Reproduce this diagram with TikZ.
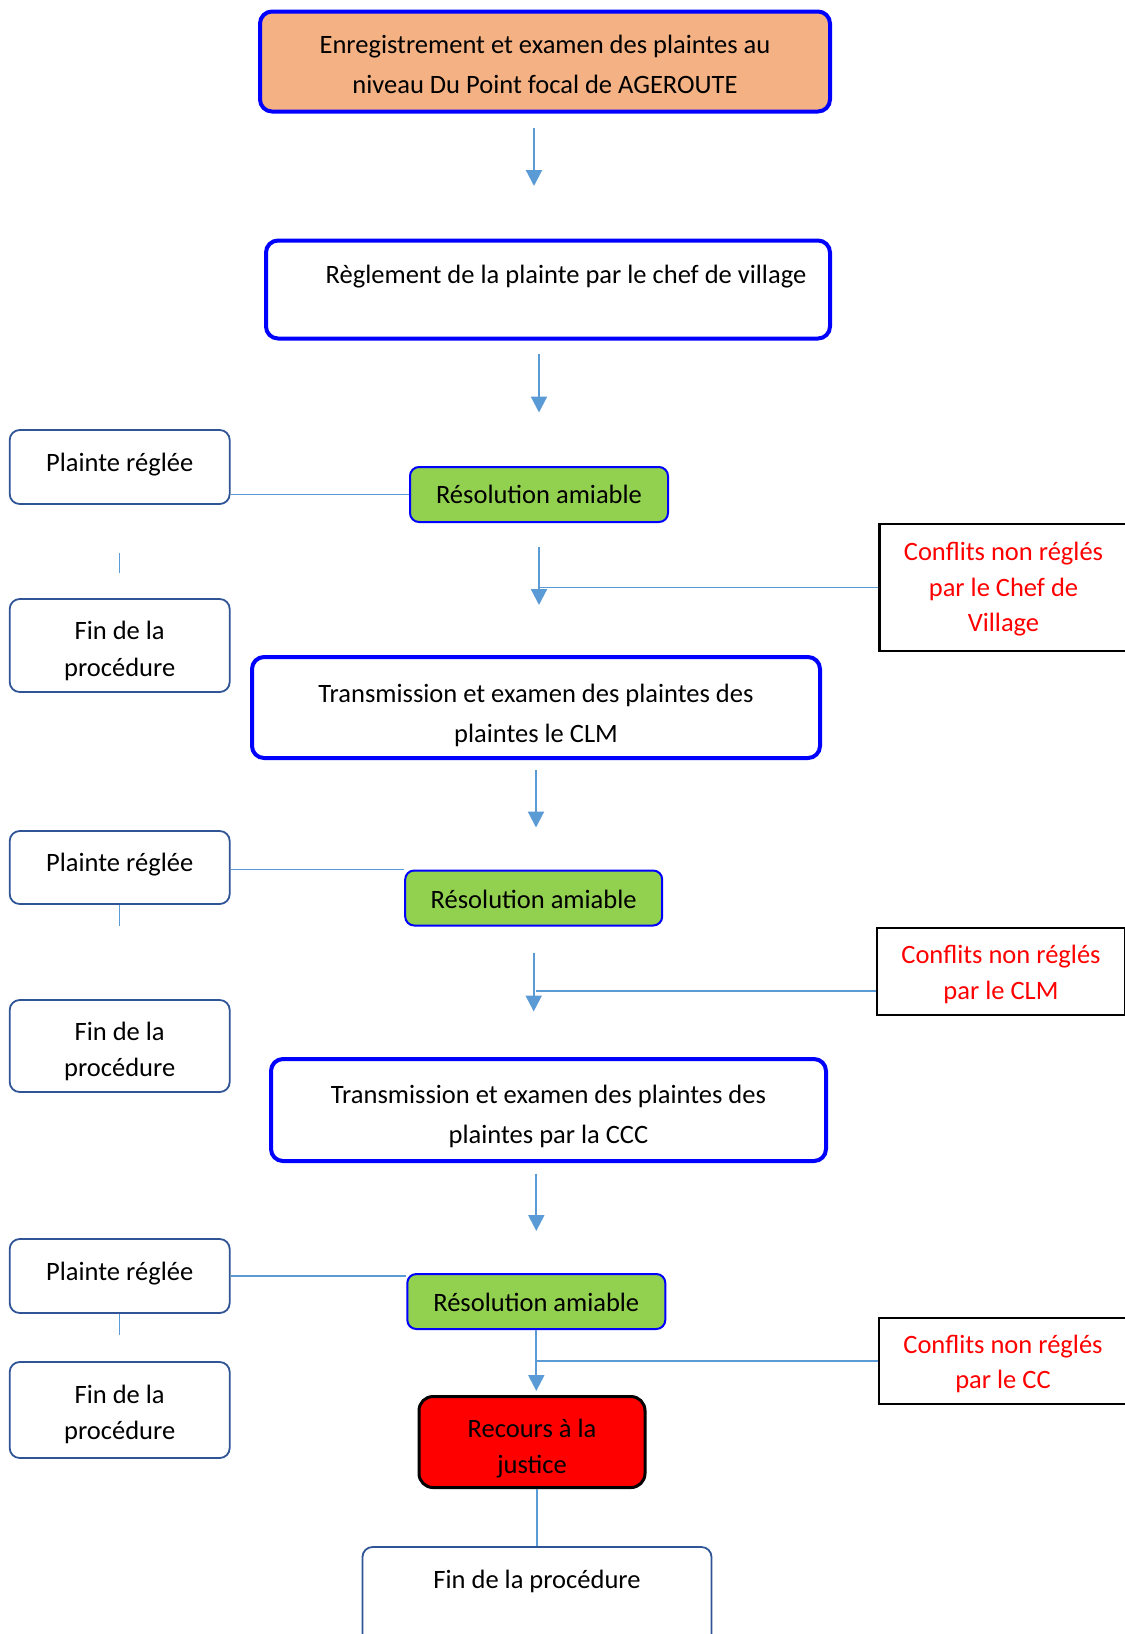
\documentclass[tikz,border=0pt]{standalone}
\usepackage{fontspec}
\setmainfont{Carlito}
\usepackage{tikz}
\usetikzlibrary{calc}
\usetikzlibrary{arrows.meta}
\definecolor{orangebox}{HTML}{F4B183}
\definecolor{greenbox}{HTML}{92D050}
\definecolor{edgeblue}{HTML}{2F5597}
\definecolor{linkblue}{HTML}{5B9BD5}
% text block, moved up or down inside its box
\newcommand{\boxtext}[2][0pt]{\raisebox{#1}[\height][\depth]{\begin{tabular}{@{}c@{}}#2\end{tabular}}}
\tikzset{
	mainbox/.style={rounded corners=12pt,draw=blue,line width=4pt,inner sep=0pt,font=\fontsize{26.5}{40}\selectfont},
	smallbox/.style={rounded corners=10pt,draw=edgeblue,line width=1.8pt,inner sep=0pt,minimum width=220pt,font=\fontsize{26.5}{36.5}\selectfont},
	resbox/.style={rounded corners=9pt,draw=blue,fill=greenbox,line width=2pt,inner sep=0pt,minimum height=55pt,font=\fontsize{26.5}{36}\selectfont},
	conflit/.style={draw=black,line width=2.2pt,text=red,inner sep=0pt,minimum width=248pt,font=\fontsize{26.5}{35.5}\selectfont},
	recoursbox/.style={rounded corners=14pt,draw=black,fill=red,line width=3pt,inner sep=0pt,font=\fontsize{26.5}{36}\selectfont},
	flow/.style={draw=linkblue,line width=2.2pt,-{Triangle[width=16pt,length=16pt]}},
	link/.style={draw=linkblue,line width=1.2pt},
}
\begin{document}
\begin{tikzpicture}[x=1pt,y=-1pt]
	\useasboundingbox (0,0) rectangle (1125,1634);
	% main column
	\node[mainbox,fill=orangebox,minimum width=570pt,minimum height=100pt] (top) at (545,61.5) {\boxtext[-4pt]{Enregistrement et examen des plaintes au\\niveau Du Point focal de AGEROUTE}};
	\node[mainbox,minimum width=564pt,minimum height=98pt] (regl) at (548,289.5) {\boxtext[14pt]{\hspace*{36pt}Règlement de la plainte par le chef de village}};
	\node[resbox,minimum width=258pt] (res1) at (539,494.5) {\boxtext[-2pt]{Résolution amiable}};
	\node[mainbox,minimum width=568pt,minimum height=101pt] (clm) at (536,707.5) {\boxtext[-7pt]{Transmission et examen des plaintes des\\plaintes le CLM}};
	\node[resbox,minimum width=257pt] (res2) at (533.7,898) {\boxtext[-3pt]{Résolution amiable}};
	\node[mainbox,minimum width=555pt,minimum height=102pt] (ccc) at (548.5,1110) {\boxtext[-5pt]{Transmission et examen des plaintes des\\plaintes par la CCC}};
	\node[resbox,minimum width=258pt] (res3) at (536.3,1301.5) {\boxtext[-3pt]{Résolution amiable}};
	\node[recoursbox,minimum width=226pt,minimum height=91pt] (recours) at (532,1442) {\boxtext[-6pt]{Recours à la\\justice}};
	\node[smallbox,minimum width=349pt,minimum height=100pt] (final) at (537,1597) {\boxtext[16pt]{Fin de la procédure}};
	% left column
	\node[smallbox,minimum height=74pt] (plainte1) at (119.7,467) {\boxtext[3pt]{Plainte réglée}};
	\node[smallbox,minimum height=93pt] (fin1) at (119.7,645.5) {\boxtext[-5pt]{Fin de la\\procédure}};
	\node[smallbox,minimum height=73pt] (plainte2) at (119.7,867.5) {\boxtext[3pt]{Plainte réglée}};
	\node[smallbox,minimum height=92pt] (fin2) at (119.7,1046) {\boxtext[-5pt]{Fin de la\\procédure}};
	\node[smallbox,minimum height=74pt] (plainte3) at (119.7,1276) {\boxtext[3pt]{Plainte réglée}};
	\node[smallbox,minimum height=96pt] (fin3) at (119.7,1410) {\boxtext[-4pt]{Fin de la\\procédure}};
	% right column
	\node[conflit,minimum height=127pt] (conf1) at (1003.5,587.5) {\boxtext[-1.5pt]{Conflits non réglés\\par le Chef de\\Village}};
	\node[conflit,minimum height=87pt] (conf2) at (1001,971.5) {\boxtext[-3pt]{Conflits non réglés\\par le CLM}};
	\node[conflit,minimum height=86pt] (conf3) at (1003,1361) {\boxtext[-3pt]{Conflits non réglés\\par le CC}};
	% arrows
	\draw[flow,shorten <=14.5pt,shorten >=52.5pt] ([xshift=-11pt]top.south) -- ([xshift=-11pt]top.south |- regl.north);
	\draw[flow,shorten <=13.5pt,shorten >=53.5pt] (res1.north |- regl.south) -- (res1.north);
	\draw[flow,shorten <=24pt,shorten >=50pt] (res1.south) -- (res1.south |- clm.north);
	\draw[flow,shorten <=10pt,shorten >=42pt] (clm.south) -- (clm.south |- res2.north);
	\draw[flow,shorten <=26pt,shorten >=45.5pt] (res2.south) -- (res2.south |- ccc.north);
	\draw[flow,shorten <=10.5pt,shorten >=42pt] (res3.north |- ccc.south) -- (res3.north);
	\draw[flow,shorten >=4pt] (res3.south) -- (res3.south |- recours.north);
	\draw[link] (final.north |- recours.south) -- (final.north);
	% side links
	\draw[link] (res1.west) -- (res1.west -| plainte1.east);
	\draw[link] (res2.north west) -- (res2.north west -| plainte2.east);
	\draw[link] (plainte3.east) -- (plainte3.east -| res3.west);
	\draw[link] (conf1.west) -- (conf1.west -| res1.south);
	\coordinate (j2) at (535.5,991);
	\draw[link] (j2) -- (j2 -| conf2.west);
	\draw[link] (conf3.west) -- (conf3.west -| res3.south);
	\draw[link,line width=0.8pt,shorten <=48pt,shorten >=25pt] (plainte1) -- (fin1);
	\draw[link,line width=0.8pt,shorten >=73pt] (plainte2.south) -- (fin2.north);
	\draw[link,line width=0.8pt,shorten >=26.5pt] (plainte3.south) -- (fin3.north);
\end{tikzpicture}
\end{document}
